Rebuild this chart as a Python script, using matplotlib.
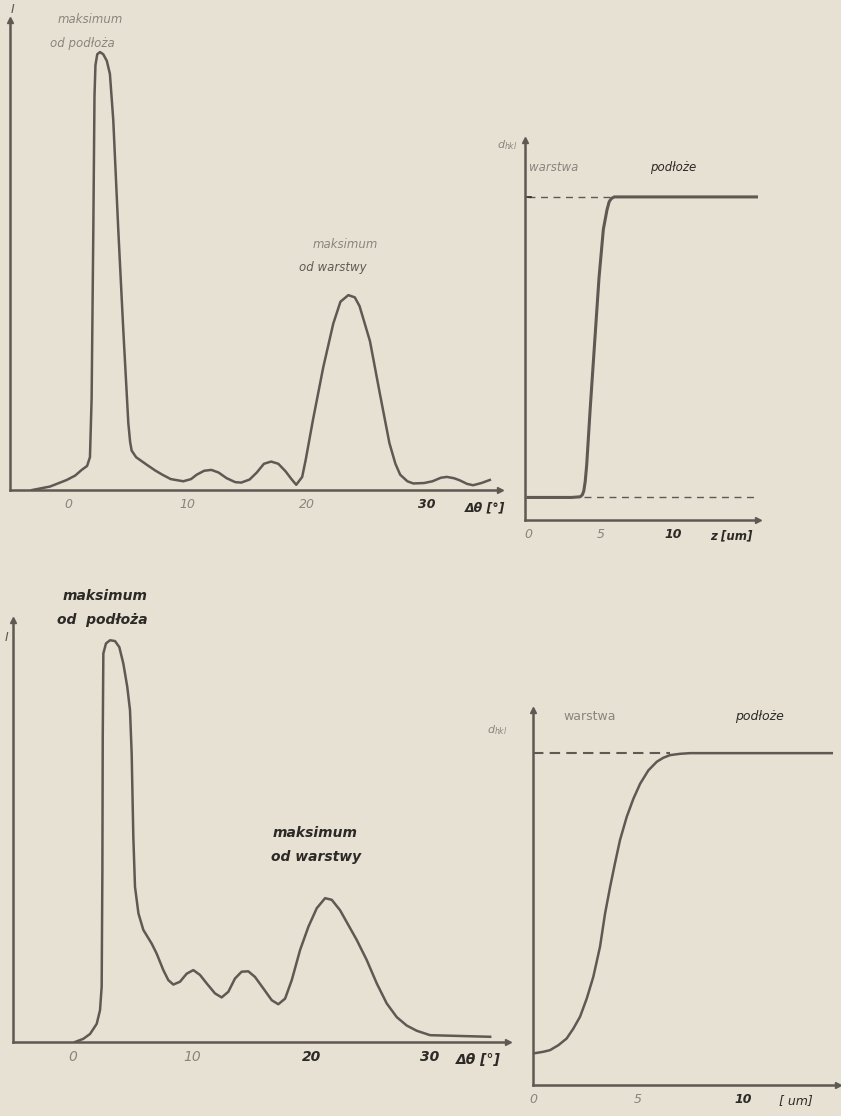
import matplotlib.pyplot as plt

# top left: rocking curve, sharp layer
theta_a = [-3.0, -1.5, -0.1, 0.6, 1.15, 1.6, 1.84, 1.98, 2.12, 2.22, 2.3, 2.45, 2.68, 2.95, 3.25,
           3.51, 3.79, 4.21, 4.63, 5.05, 5.2, 5.33, 5.7, 6.58, 7.28, 7.9, 8.6, 9.65, 10.3, 10.77,
           11.4, 12.0, 12.6, 13.28, 14.0, 14.5, 15.2, 15.8, 16.4, 17.0, 17.6, 18.2, 18.7, 19.1,
           19.6, 19.9, 20.5, 21.36, 22.2, 22.8, 23.46, 24.0, 24.4, 25.27, 26.1, 26.9, 27.4, 27.8,
           28.4, 28.9, 29.8, 30.5, 31.2, 31.7, 32.3, 32.8, 33.4, 33.9, 34.6, 35.3]
inten_a = [0.0, 0.008, 0.023, 0.033, 0.046, 0.055, 0.075, 0.21, 0.59, 0.9, 0.97, 0.995, 1.0, 0.995, 0.98,
           0.95, 0.845, 0.594, 0.365, 0.153, 0.11, 0.09, 0.075, 0.058, 0.045, 0.035, 0.025, 0.02, 0.025, 0.035,
           0.044, 0.046, 0.04, 0.027, 0.018, 0.017, 0.024, 0.04, 0.06, 0.065, 0.06, 0.043, 0.025, 0.012,
           0.03, 0.07, 0.16, 0.28, 0.38, 0.43, 0.445, 0.44, 0.42, 0.34, 0.22, 0.107, 0.06, 0.035,
           0.02, 0.015, 0.016, 0.02, 0.028, 0.03, 0.027, 0.022, 0.014, 0.011, 0.016, 0.023]

# top right: sharp profile of d_hkl
z_a = [0.0, 3.0, 3.6, 3.75, 3.85, 3.95, 4.05, 4.3, 4.6, 4.9, 5.2, 5.45, 5.6, 5.75, 5.95, 6.3, 8.0, 15.9]
d_a = [0.07, 0.07, 0.072, 0.078, 0.09, 0.12, 0.17, 0.35, 0.55, 0.75, 0.9, 0.96, 0.985, 0.995, 1.0, 1.0,
       1.0, 1.0]

# bottom left: rocking curve, graded layer
theta_b = [0.17, 0.87, 1.43, 1.99, 2.27, 2.41, 2.47, 2.5, 2.55, 2.77, 3.11, 3.53, 3.89, 4.23, 4.56,
           4.79, 4.93, 5.07, 5.21, 5.5, 5.91, 6.61, 7.03, 7.59, 8.01, 8.43, 8.99, 9.55, 10.11, 10.67,
           11.23, 11.93, 12.49, 13.05, 13.61, 14.17, 14.73, 15.29, 16.0, 16.7, 17.25, 17.82, 18.38,
           19.08, 19.78, 20.48, 21.18, 21.74, 22.44, 23.14, 23.84, 24.68, 25.52, 26.36, 27.2, 28.04,
           28.88, 30.0, 35.05]
inten_b = [0.0, 0.008, 0.02, 0.045, 0.079, 0.138, 0.428, 0.76, 0.967, 0.992, 1.0, 0.998, 0.983, 0.942, 0.884,
           0.826, 0.718, 0.51, 0.386, 0.32, 0.279, 0.245, 0.22, 0.179, 0.154, 0.143, 0.15, 0.17, 0.179, 0.167,
           0.146, 0.121, 0.111, 0.125, 0.158, 0.175, 0.176, 0.162, 0.133, 0.104, 0.094, 0.108, 0.154,
           0.229, 0.287, 0.333, 0.358, 0.354, 0.328, 0.291, 0.254, 0.204, 0.146, 0.096, 0.062, 0.041,
           0.028, 0.017, 0.013]

# bottom right: graded profile of d_hkl
z_b = [0.0, 0.49, 0.81, 1.21, 1.6, 1.92, 2.24, 2.56, 2.87, 3.19, 3.43, 3.67, 3.9, 4.14, 4.46, 4.78,
       5.1, 5.49, 5.89, 6.2, 6.52, 7.0, 7.48, 14.22]
d_b = [0.095, 0.1, 0.105, 0.12, 0.14, 0.17, 0.206, 0.261, 0.326, 0.417, 0.517, 0.597, 0.668, 0.738,
       0.808, 0.863, 0.908, 0.948, 0.974, 0.986, 0.994, 0.998, 1.0, 1.0]

bg = '#e7e1d4'
ink = '#5e5953'
dark = '#2c2926'
grey = '#8a847c'

fig = plt.figure(figsize=(8.41, 11.16), dpi=100, facecolor=bg)


def frame(ax, xlim, ylim):
    ax.set_facecolor('none')
    ax.set_xlim(*xlim)
    ax.set_ylim(*ylim)
    for s in ['top', 'right']:
        ax.spines[s].set_visible(False)
    for s in ['left', 'bottom']:
        ax.spines[s].set_color(ink)
        ax.spines[s].set_linewidth(1.8)
    ax.plot(1, 0, '>', color=ink, ms=5, transform=ax.transAxes, clip_on=False)
    ax.plot(0, 1, '^', color=ink, ms=5, transform=ax.transAxes, clip_on=False)
    ax.set_yticks([])
    ax.tick_params(axis='x', length=0, pad=6)


def ticklabels(ax, ticks, colors, size):
    ax.set_xticks(ticks)
    ax.set_xticklabels([str(t) for t in ticks], fontstyle='italic', fontsize=size)
    for lab, c in zip(ax.get_xticklabels(), colors):
        lab.set_color(c)
        if c == dark:
            lab.set_fontweight('bold')


# ---- top left
ax1 = fig.add_axes([0.0119, 0.5609, 0.5826, 0.4211])
frame(ax1, (-4.85, 36.15), (0, 1.073))
ax1.plot(theta_a, inten_a, color=ink, lw=1.8)
ticklabels(ax1, [0, 10, 20, 30], [grey, grey, grey, dark], 9)
ax1.text(0.97, -0.025, 'Δθ [°]', transform=ax1.transAxes, ha='center', va='top',
         fontsize=9, fontstyle='italic', fontweight='bold', color=dark)
fig.text(0.015, 0.997, 'I', ha='center', va='top', fontsize=9, fontstyle='italic', color=ink)
ax1.text(1.84, 1.075, 'maksimum', ha='center', va='center', fontsize=8.5, fontstyle='italic',
         color=grey, clip_on=False)
ax1.text(1.17, 1.02, 'od podłoża', ha='center', va='center', fontsize=8.5, fontstyle='italic',
         color=grey, clip_on=False)
ax1.text(23.2, 0.56, 'maksimum', ha='center', va='center', fontsize=8.5, fontstyle='italic', color=grey)
ax1.text(22.2, 0.507, 'od warstwy', ha='center', va='center', fontsize=8.5, fontstyle='italic', color=ink)

# ---- top right
ax2 = fig.add_axes([0.6243, 0.534, 0.277, 0.3405])
frame(ax2, (-0.2, 15.86), (0, 1.176))
ax2.plot(z_a, d_a, color=ink, lw=2.2)
ax2.plot([0, 5.9], [1.0, 1.0], color=ink, lw=1, ls=(0, (5, 4)))
ax2.plot([3.85, 15.9], [0.07, 0.07], color=ink, lw=1, ls=(0, (5, 4)))
ax2.plot([-0.2, 0.2], [1.0, 1.0], color=dark, lw=1.2)
ticklabels(ax2, [0, 5, 10], [grey, grey, dark], 9)
ax2.text(14.0, -0.025, 'z [um]', ha='center', va='top', transform=ax2.get_xaxis_transform(),
         fontsize=8.5, fontstyle='italic', fontweight='bold', color=dark)
ax2.text(-1.4, 1.16, '$d_{hkl}$', ha='center', va='center', fontsize=8, color=grey)
ax2.text(0.1, 1.09, 'warstwa', ha='left', va='center', fontsize=8.5, fontstyle='italic', color=grey)
ax2.text(10.0, 1.09, 'podłoże', ha='center', va='center', fontsize=8.5, fontstyle='italic', color=dark)

# ---- bottom left
ax3 = fig.add_axes([0.01546, 0.0663, 0.5886, 0.378])
frame(ax3, (-5.04, 36.55), (0, 1.05))
ax3.plot(theta_b, inten_b, color=ink, lw=1.8)
ticklabels(ax3, [0, 10, 20, 30], [grey, grey, dark, dark], 10)
ax3.text(0.94, -0.025, 'Δθ [°]', transform=ax3.transAxes, ha='center', va='top',
         fontsize=10, fontstyle='italic', fontweight='bold', color=dark)
ax3.text(-0.01, 0.96, 'I', transform=ax3.transAxes, ha='right', va='center',
         fontsize=9, fontstyle='italic', color=ink)
ax3.text(2.7, 1.11, 'maksimum', ha='center', va='center', fontsize=10, fontstyle='italic',
         fontweight='bold', color=dark)
ax3.text(2.5, 1.05, 'od  podłoża', ha='center', va='center', fontsize=10, fontstyle='italic',
         fontweight='bold', color=dark)
ax3.text(20.3, 0.52, 'maksimum', ha='center', va='center', fontsize=10, fontstyle='italic',
         fontweight='bold', color=dark)
ax3.text(20.4, 0.46, 'od warstwy', ha='center', va='center', fontsize=10, fontstyle='italic',
         fontweight='bold', color=dark)

# ---- bottom right
ax4 = fig.add_axes([0.6338, 0.0278, 0.3627, 0.336])
frame(ax4, (0, 14.52), (0, 1.13))
ax4.plot(z_b, d_b, color=ink, lw=1.8)
ax4.plot([0, 6.5], [1.0, 1.0], color=ink, lw=1.5, ls=(0, (5, 3)))
ticklabels(ax4, [0, 5, 10], [grey, grey, dark], 9)
ax4.text(12.5, -0.025, '[ um]', ha='center', va='top', transform=ax4.get_xaxis_transform(),
         fontsize=9, fontstyle='italic', color=dark)
ax4.text(-1.7, 1.07, '$d_{hkl}$', ha='center', va='center', fontsize=8, color=grey)
ax4.text(2.7, 1.11, 'warstwa', ha='center', va='center', fontsize=9, color=grey)
ax4.text(10.8, 1.11, 'podłoże', ha='center', va='center', fontsize=9, fontstyle='italic', color=dark)

fig.savefig('out.png', dpi=100, facecolor=bg)
